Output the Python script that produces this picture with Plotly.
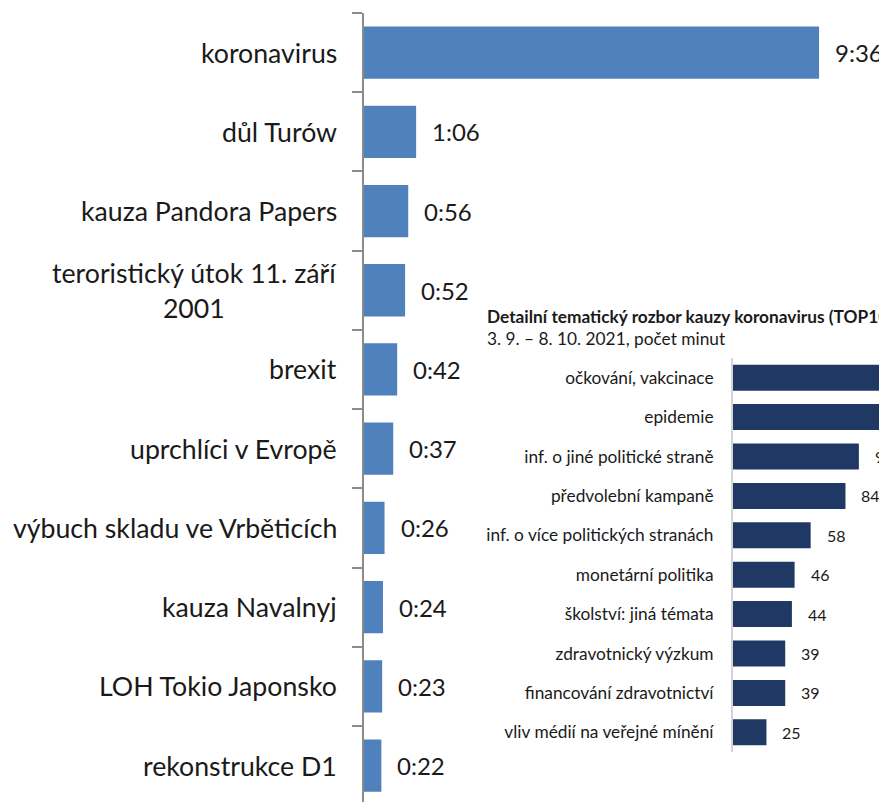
import plotly.graph_objects as go

# main chart: total airtime per topic, in minutes (shown as h:mm)
main_topics = [
    "koronavirus",
    "důl Turów",
    "kauza Pandora Papers",
    "teroristický útok 11. září<br>2001",
    "brexit",
    "uprchlíci v Evropě",
    "výbuch skladu ve Vrběticích",
    "kauza Navalnyj",
    "LOH Tokio Japonsko",
    "rekonstrukce D1",
]
main_minutes = [576, 66, 56, 52, 42, 37, 26, 24, 23, 22]

# inset: koronavirus breakdown, minutes (top two run off the right edge)
detail_topics = [
    "očkování, vakcinace",
    "epidemie",
    "inf. o jiné politické straně",
    "předvolební kampaně",
    "inf. o více politických stranách",
    "monetární politika",
    "školství: jiná témata",
    "zdravotnický výzkum",
    "financování zdravotnictví",
    "vliv médií na veřejné mínění",
]
detail_minutes = [210, 150, 94, 84, 58, 46, 44, 39, 39, 25]

detail_title = "Detailní tematický rozbor kauzy koronavirus (TOP10)"
detail_subtitle = "3. 9. – 8. 10. 2021, počet minut"

FONT = "Lato"
MAIN_BLUE = "#4f81bd"
NAVY = "#1f3864"
INK = "#1a1a1a"


def hmm(m):
    return f"{m // 60}:{m % 60:02d}"


fig = go.Figure()
fig.add_trace(
    go.Bar(
        x=main_minutes,
        y=main_topics,
        orientation="h",
        marker=dict(color=MAIN_BLUE, line=dict(width=0)),
        xaxis="x",
        yaxis="y",
        hoverinfo="skip",
    )
)
fig.add_trace(
    go.Bar(
        x=detail_minutes,
        y=detail_topics,
        orientation="h",
        marker=dict(color=NAVY, line=dict(width=0)),
        xaxis="x2",
        yaxis="y2",
        hoverinfo="skip",
    )
)

annotations = []
# main category labels (centred lines, right-aligned block)
for t in main_topics:
    annotations.append(dict(
        x=0, y=t, xref="x domain", yref="y", text=t, showarrow=False,
        xanchor="right", xshift=-25, align="center",
        font=dict(family=FONT, size=26.7, color=INK),
    ))
# main value labels
for t, m in zip(main_topics, main_minutes):
    annotations.append(dict(
        x=m, y=t, xref="x", yref="y", text=hmm(m), showarrow=False,
        xanchor="left", xshift=14,
        font=dict(family=FONT, size=24, color=INK),
    ))
# inset value labels
for t, m in zip(detail_topics, detail_minutes):
    annotations.append(dict(
        x=m, y=t, xref="x2", yref="y2", text=str(m), showarrow=False,
        xanchor="left", xshift=14,
        font=dict(family=FONT, size=16, color=INK),
    ))
annotations.append(dict(
    x=0.2305, y=0.615, xref="paper", yref="paper", text=f"<b>{detail_title}</b>",
    showarrow=False, xanchor="left", yanchor="middle",
    font=dict(family=FONT, size=17.3, color=INK),
))
annotations.append(dict(
    x=0.2305, y=0.587, xref="paper", yref="paper", text=detail_subtitle,
    showarrow=False, xanchor="left", yanchor="middle",
    font=dict(family=FONT, size=17.3, color=INK),
))

# the page body adds an 8px margin, so the figure is 8px smaller than the window
fig.update_layout(
    width=879,
    height=794,
    margin=dict(l=356, r=0, t=5, b=0),
    paper_bgcolor="white",
    plot_bgcolor="rgba(0,0,0,0)",
    showlegend=False,
    bargap=0.34,
    font=dict(family=FONT, color=INK),
    xaxis=dict(
        domain=[0, 1], range=[0, 662], visible=False, fixedrange=True,
    ),
    yaxis=dict(
        domain=[0, 1],
        range=[9.46, -0.5],
        showticklabels=False,
        showline=True,
        linecolor="#8c8c8c",
        linewidth=2,
        ticks="outside",
        tickson="boundaries",
        ticklen=10,
        tickwidth=2,
        tickcolor="#8c8c8c",
        showgrid=False,
        zeroline=False,
    ),
    xaxis2=dict(
        domain=[0.7055, 1], range=[0, 115], anchor="y2", visible=False,
    ),
    yaxis2=dict(
        domain=[0.0634, 0.5627],
        anchor="x2",
        range=[9.5, -0.5],
        showline=True,
        linecolor="#d4d4d4",
        linewidth=2,
        ticks="",
        ticklabelstandoff=14,
        tickfont=dict(family=FONT, size=17.3, color=INK),
        showgrid=False,
        zeroline=False,
    ),
    annotations=annotations,
)

fig.write_html("out.html")
